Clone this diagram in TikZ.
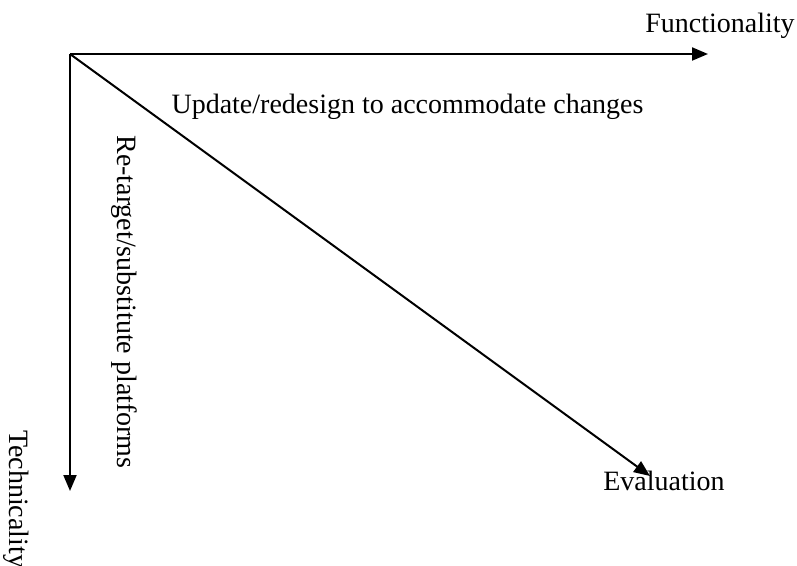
\documentclass[tikz,border=0pt]{standalone}
\usepackage{fontspec}
\setmainfont{Liberation Serif}
\usetikzlibrary{arrows.meta}
\tikzset{
  axis/.style={line width=1pt, -{Triangle[length=8pt,width=6.5pt]}},
  lbl/.style={inner sep=0pt, font=\fontsize{14}{16}\selectfont, anchor=base},
}
\begin{document}
\begin{tikzpicture}[x=0.5pt,y=-0.5pt]
\useasboundingbox (0,0) rectangle (797,566);
\coordinate (O) at (70,54);
\coordinate (F) at (708,54);
\coordinate (T) at (70,491);
\coordinate (E) at (650,476);
\draw[axis] (O) -- (F);
\draw[axis] (O) -- (T);
\draw[axis] (O) -- (E);
\node[lbl] (lf) at (720,33) {Functionality};
\node[lbl] (lu) at (407.5,114) {Update/redesign to accommodate changes};
\node[lbl, rotate=-90] (lr) at (117,302) {Re-target/substitute platforms};
\node[lbl, rotate=-90] (lt) at (10,499) {Technicality};
\node[lbl] (le) at (664,490) {Evaluation};
\end{tikzpicture}
\end{document}
